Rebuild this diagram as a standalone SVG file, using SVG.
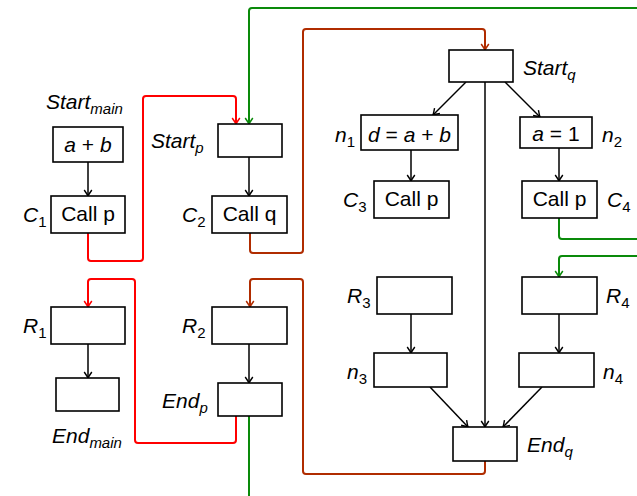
<svg xmlns="http://www.w3.org/2000/svg" width="637" height="496" viewBox="0 0 637 496">
<style>
.box{fill:#fff;stroke:#000;stroke-width:1.6}
.t{font-family:"Liberation Sans",Arial,sans-serif;font-size:21px;fill:#000}
.c{text-anchor:middle}
.i{font-style:italic}
.n{font-style:normal}
.s{font-size:15px}
.e{fill:none;stroke:#000;stroke-width:1.5}
.red{fill:none;stroke:#ff0000;stroke-width:2;stroke-linejoin:round}
.brn{fill:none;stroke:#b02c00;stroke-width:2;stroke-linejoin:round}
.grn{fill:none;stroke:#0a8a0a;stroke-width:2;stroke-linejoin:round}
</style>
<defs>
<marker id="ak" markerUnits="userSpaceOnUse" viewBox="-8 -5 9 10" refX="0" refY="0" markerWidth="9" markerHeight="10" orient="auto"><path d="M-6,-3.8 Q-2,-1 0,0 Q-2,1 -6,3.8" fill="none" stroke="#000" stroke-width="1.4"/></marker>
<marker id="ar" markerUnits="userSpaceOnUse" viewBox="-8 -5 9 10" refX="0" refY="0" markerWidth="9" markerHeight="10" orient="auto"><path d="M-6,-3.8 Q-2,-1 0,0 Q-2,1 -6,3.8" fill="none" stroke="#ff0000" stroke-width="1.5"/></marker>
<marker id="ab" markerUnits="userSpaceOnUse" viewBox="-8 -5 9 10" refX="0" refY="0" markerWidth="9" markerHeight="10" orient="auto"><path d="M-6,-3.8 Q-2,-1 0,0 Q-2,1 -6,3.8" fill="none" stroke="#b02c00" stroke-width="1.5"/></marker>
<marker id="ag" markerUnits="userSpaceOnUse" viewBox="-8 -5 9 10" refX="0" refY="0" markerWidth="9" markerHeight="10" orient="auto"><path d="M-6,-3.8 Q-2,-1 0,0 Q-2,1 -6,3.8" fill="none" stroke="#0a8a0a" stroke-width="1.5"/></marker>
</defs>

<g id="connectors">
<path class="e" d="M88,162 V196" marker-end="url(#ak)"/>
<path class="e" d="M249,157 V196" marker-end="url(#ak)"/>
<path class="e" d="M88,344 V378" marker-end="url(#ak)"/>
<path class="e" d="M249,344 V383" marker-end="url(#ak)"/>
<path class="e" d="M466,82 L433,115" marker-end="url(#ak)"/>
<path class="e" d="M505,82 L540,117" marker-end="url(#ak)"/>
<path class="e" d="M485,82 V427" marker-end="url(#ak)"/>
<path class="e" d="M411,150 V181" marker-end="url(#ak)"/>
<path class="e" d="M559,148 V181" marker-end="url(#ak)"/>
<path class="e" d="M411,314 V353" marker-end="url(#ak)"/>
<path class="e" d="M559,314 V353" marker-end="url(#ak)"/>
<path class="e" d="M430,387 L468,427" marker-end="url(#ak)"/>
<path class="e" d="M542,387 L503,427" marker-end="url(#ak)"/>
<path class="red" d="M88,233 V258 Q88,261 91,261 H140 Q143,261 143,258 V99 Q143,96 146,96 H233 Q236,96 236,99 V124" marker-end="url(#ar)"/>
<path class="red" d="M236,416 V440 Q236,443 233,443 H138 Q135,443 135,440 V282 Q135,279 132,279 H91 Q88,279 88,282 V307" marker-end="url(#ar)"/>
<path class="brn" d="M250,233 V250 Q250,253 253,253 H300 Q303,253 303,250 V32 Q303,29 306,29 H482 Q485,29 485,32 V50" marker-end="url(#ab)"/>
<path class="brn" d="M485,461 V471 Q485,474 482,474 H306 Q303,474 303,471 V282 Q303,279 300,279 H253 Q250,279 250,282 V307" marker-end="url(#ab)"/>
<path class="grn" d="M640,8 H252 Q249,8 249,11 V124" marker-end="url(#ag)"/>
<path class="grn" d="M559,218 V236 Q559,239 562,239 H640"/>
<path class="grn" d="M640,256 H562 Q559,256 559,259 V277" marker-end="url(#ag)"/>
<path class="grn" d="M249,416 V500"/>
</g>

<g id="start_main">
<rect class="box" x="53" y="127" width="70" height="35"/>
<text class="t c" x="88" y="152"><tspan class="i">a</tspan> + <tspan class="i">b</tspan></text>
<text class="t i" x="46" y="109">Start<tspan class="s" dy="5">main</tspan></text>
</g>
<g id="C1">
<rect class="box" x="51" y="196" width="74" height="37"/>
<text class="t c" x="88" y="221">Call p</text>
<text class="t i" x="23" y="222">C<tspan class="s n" dy="5">1</tspan></text>
</g>
<g id="R1">
<rect class="box" x="51" y="307" width="74" height="37"/>
<text class="t i" x="23" y="333">R<tspan class="s n" dy="5">1</tspan></text>
</g>
<g id="end_main">
<rect class="box" x="56" y="378" width="63" height="33"/>
<text class="t i" x="52" y="443">End<tspan class="s" dy="5">main</tspan></text>
</g>

<g id="start_p">
<rect class="box" x="218" y="124" width="64" height="33"/>
<text class="t i" x="151" y="148">Start<tspan class="s" dy="5">p</tspan></text>
</g>
<g id="C2">
<rect class="box" x="212" y="196" width="75" height="37"/>
<text class="t c" x="249.5" y="221">Call q</text>
<text class="t i" x="182" y="222">C<tspan class="s n" dy="5">2</tspan></text>
</g>
<g id="R2">
<rect class="box" x="212" y="307" width="75" height="37"/>
<text class="t i" x="182" y="333">R<tspan class="s n" dy="5">2</tspan></text>
</g>
<g id="end_p">
<rect class="box" x="218" y="383" width="64" height="33"/>
<text class="t i" x="162" y="408">End<tspan class="s" dy="5">p</tspan></text>
</g>

<g id="start_q">
<rect class="box" x="449" y="50" width="64" height="32"/>
<text class="t i" x="523" y="75">Start<tspan class="s" dy="5">q</tspan></text>
</g>
<g id="n1">
<rect class="box" x="361" y="115" width="97" height="35"/>
<text class="t c" x="409.5" y="142"><tspan class="i">d</tspan> = <tspan class="i">a</tspan> + <tspan class="i">b</tspan></text>
<text class="t i" x="335" y="142">n<tspan class="s n" dy="5">1</tspan></text>
</g>
<g id="n2">
<rect class="box" x="520" y="117" width="72" height="31"/>
<text class="t c" x="556" y="141"><tspan class="i">a</tspan> = 1</text>
<text class="t i" x="602" y="142">n<tspan class="s n" dy="5">2</tspan></text>
</g>
<g id="C3">
<rect class="box" x="374" y="181" width="75" height="37"/>
<text class="t c" x="411.5" y="206">Call p</text>
<text class="t i" x="343" y="207">C<tspan class="s n" dy="5">3</tspan></text>
</g>
<g id="C4">
<rect class="box" x="522" y="181" width="75" height="37"/>
<text class="t c" x="559.5" y="206">Call p</text>
<text class="t i" x="607" y="207">C<tspan class="s n" dy="5">4</tspan></text>
</g>
<g id="R3">
<rect class="box" x="377" y="277" width="75" height="37"/>
<text class="t i" x="347" y="303">R<tspan class="s n" dy="5">3</tspan></text>
</g>
<g id="n3">
<rect class="box" x="374" y="353" width="73" height="34"/>
<text class="t i" x="347" y="379">n<tspan class="s n" dy="5">3</tspan></text>
</g>
<g id="R4">
<rect class="box" x="522" y="277" width="75" height="37"/>
<text class="t i" x="606" y="303">R<tspan class="s n" dy="5">4</tspan></text>
</g>
<g id="n4">
<rect class="box" x="519" y="353" width="75" height="34"/>
<text class="t i" x="603" y="379">n<tspan class="s n" dy="5">4</tspan></text>
</g>
<g id="end_q">
<rect class="box" x="453" y="427" width="64" height="34"/>
<text class="t i" x="527" y="452">End<tspan class="s" dy="5">q</tspan></text>
</g>
</svg>
